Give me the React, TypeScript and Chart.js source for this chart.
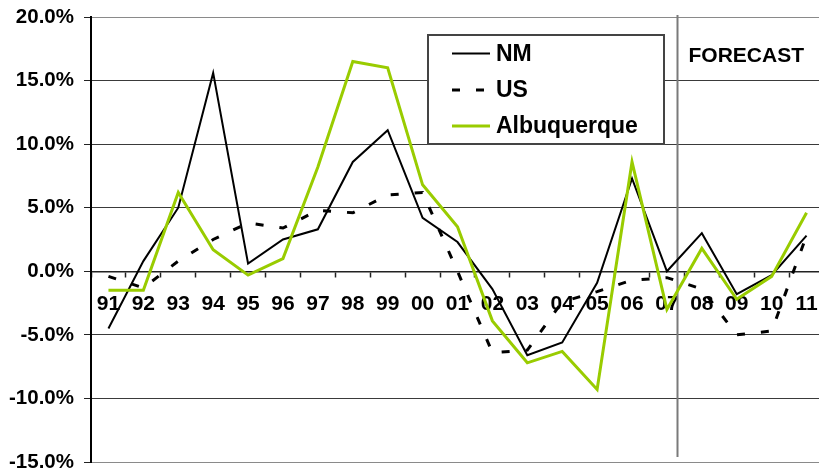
import React, { useEffect, useRef } from "react";
import { Chart, registerables } from "chart.js";

Chart.register(...registerables);

// ---- data ----
const YEARS = ["91", "92", "93", "94", "95", "96", "97", "98", "99", "00", "01", "02", "03", "04", "05", "06", "07", "08", "09", "10", "11"];
const NM = [-4.5, 0.8, 5.0, 15.6, 0.6, 2.5, 3.3, 8.6, 11.1, 4.2, 2.3, -1.4, -6.6, -5.6, -0.9, 7.3, 0.0, 3.0, -1.8, -0.3, 2.8];
const US = [-0.4, -1.3, 0.8, 2.5, 3.8, 3.4, 4.8, 4.6, 6.0, 6.2, 0.0, -6.4, -6.2, -2.4, -1.6, -0.7, -0.5, -1.4, -5.0, -4.7, 2.8];
const ABQ = [-1.5, -1.5, 6.2, 1.7, -0.3, 1.0, 8.2, 16.5, 16.0, 6.8, 3.5, -3.9, -7.2, -6.3, -9.3, 8.6, -3.0, 1.8, -2.2, -0.4, 4.6];
const SERIES_NAMES = ["NM", "US", "Albuquerque"];
const Y_TICKS = { min: -15, max: 20, step: 5 };
const FORECAST_AT = 16.3; // category position (between 07 and 08)
const FORECAST_LABEL = "FORECAST";

const FONT = '"Liberation Sans", Arial, Helvetica, sans-serif';
const GREEN = "#99CC00";

const forecastPlugin = {
  id: "forecast",
  beforeDatasetsDraw(chart: any) {
    const { ctx, scales } = chart;
    const x = Math.round(scales.x.getPixelForValue(FORECAST_AT)) + 0.5;
    const top = scales.y.getPixelForValue(Y_TICKS.max) - 2;
    const bottom = scales.y.getPixelForValue(Y_TICKS.min) - 5;
    ctx.save();
    ctx.strokeStyle = "#7a7a7a";
    ctx.lineWidth = 2;
    ctx.beginPath();
    ctx.moveTo(x, top);
    ctx.lineTo(x, bottom);
    ctx.stroke();
    ctx.fillStyle = "#000";
    ctx.font = `bold 21px ${FONT}`;
    ctx.textAlign = "left";
    ctx.textBaseline = "middle";
    ctx.fillText(FORECAST_LABEL, x + 11, 56);
    ctx.restore();
  },
};

const boxLegendPlugin = {
  id: "boxLegend",
  afterDatasetsDraw(chart: any) {
    const { ctx } = chart;
    const bx = 428, by = 35, bw = 236, bh = 109;
    ctx.save();
    ctx.fillStyle = "#fff";
    ctx.fillRect(bx, by, bw, bh);
    ctx.strokeStyle = "#444";
    ctx.lineWidth = 2;
    ctx.strokeRect(bx, by, bw, bh);
    const rows = [53.5, 90, 126];
    chart.data.datasets.forEach((ds: any, i: number) => {
      const y = rows[i];
      ctx.strokeStyle = ds.borderColor;
      ctx.lineWidth = ds.borderWidth;
      ctx.setLineDash(ds.borderDash || []);
      ctx.lineCap = "butt";
      ctx.beginPath();
      ctx.moveTo(452, y);
      ctx.lineTo(490, y);
      ctx.stroke();
      ctx.setLineDash([]);
      ctx.fillStyle = "#000";
      ctx.font = `bold 23px ${FONT}`;
      ctx.textAlign = "left";
      ctx.textBaseline = "middle";
      ctx.fillText(ds.label, 496, y + 1);
    });
    ctx.restore();
  },
};

export default function App() {
  const ref = useRef<HTMLCanvasElement | null>(null);

  useEffect(() => {
    if (!ref.current) return;
    const chart = new Chart(ref.current, {
      type: "line",
      data: {
        labels: YEARS,
        datasets: [
          {
            label: SERIES_NAMES[0],
            data: NM,
            borderColor: "#000",
            borderWidth: 2,
            pointRadius: 0,
            tension: 0,
            order: 1,
          },
          {
            label: SERIES_NAMES[1],
            data: US,
            borderColor: "#000",
            borderWidth: 3,
            borderDash: [8, 16],
            borderCapStyle: "butt",
            pointRadius: 0,
            tension: 0,
            order: 2,
          },
          {
            label: SERIES_NAMES[2],
            data: ABQ,
            borderColor: GREEN,
            borderWidth: 3,
            pointRadius: 0,
            tension: 0,
            order: 0,
          },
        ],
      },
      options: {
        responsive: false,
        animation: false,
        devicePixelRatio: 1,
        layout: { padding: { top: 17, left: 0, right: 0, bottom: 12 } },
        plugins: {
          legend: { display: false },
          tooltip: { enabled: false },
          title: { display: false },
        },
        scales: {
          x: {
            type: "category",
            position: { y: 0 } as any,
            offset: true,
            grid: {
              display: true,
              drawOnChartArea: false,
              drawTicks: true,
              tickLength: 5,
              tickColor: "#222",
              tickWidth: 1.5,
              offset: true,
            },
            border: { display: true, color: "#222", width: 1.5 },
            ticks: {
              color: "#000",
              font: { family: FONT, size: 21, weight: "bold" },
              padding: 15,
              autoSkip: false,
              maxRotation: 0,
              minRotation: 0,
            },
            afterFit(scale: any) {
              scale.height = 0;
              scale.paddingLeft = 0;
              scale.paddingRight = 0;
            },
          },
          y: {
            type: "linear",
            min: Y_TICKS.min,
            max: Y_TICKS.max,
            ticks: {
              stepSize: Y_TICKS.step,
              color: "#000",
              font: { family: FONT, size: 20.5, weight: "bold" },
              padding: 10,
              callback: (v: any) => Number(v).toFixed(1) + "%",
            },
            grid: {
              color: (c: any) =>
                c.tick && (c.tick.value === Y_TICKS.max || c.tick.value === Y_TICKS.min) ? "#8a8a8a" : "#3a3a3a",
              lineWidth: 1,
              drawTicks: true,
              tickLength: 7,
              tickColor: "#222",
            },
            border: { display: true, color: "#000", width: 2 },
            afterFit(scale: any) {
              scale.width = 91;
              scale.paddingTop = 0;
              scale.paddingBottom = 0;
            },
          },
        },
      } as any,
      plugins: [forecastPlugin, boxLegendPlugin],
    });
    return () => chart.destroy();
  }, []);

  return (
    <div
      style={{
        position: "absolute",
        left: 0,
        top: 0,
        width: 819,
        height: 472,
        overflow: "hidden",
        background: "#fff",
      }}
    >
      <canvas ref={ref} width={824} height={474} style={{ display: "block", width: 824, height: 474 }} />
    </div>
  );
}
